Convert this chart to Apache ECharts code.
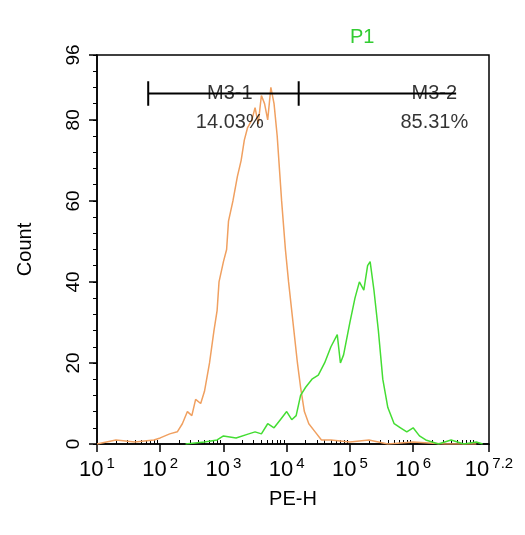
<!DOCTYPE html>
<html>
<head>
<meta charset="utf-8">
<script src="https://cdn.jsdelivr.net/npm/echarts@6/dist/echarts.min.js"></script>
<style>html,body{margin:0;background:#fff}#plot{width:525px;height:535px}</style>
</head>
<body>
<div id="plot"></div>
<script>
// x values are log10 of PE-H
var orangeData = [[1.0,0],[1.3,1],[1.6,0.5],[1.9,1],[2.0,1.5],[2.15,2.5],[2.27,3],[2.35,5],[2.43,8],[2.5,7],[2.56,11],[2.64,10],[2.7,13],[2.78,20],[2.85,28],[2.9,33],[2.93,40],[3.0,45],[3.05,48],[3.08,55],[3.15,60],[3.22,66],[3.28,70],[3.33,75],[3.38,78],[3.45,80],[3.5,83],[3.55,79],[3.6,86],[3.65,84],[3.7,80],[3.75,88],[3.8,84],[3.85,76],[3.92,60],[3.98,48],[4.03,40],[4.1,30],[4.17,20],[4.22,14],[4.28,8],[4.35,5],[4.45,3],[4.55,1],[4.7,1],[5.0,0.5],[5.3,1],[5.6,0],[6.0,0.5],[6.5,0],[7.0,0]];
var greenData = [[2.4,0],[2.7,0.5],[2.9,1],[3.0,2],[3.2,1.5],[3.4,2.5],[3.5,3],[3.6,2.5],[3.7,5],[3.8,4],[3.9,6],[4.0,8],[4.08,6],[4.15,7],[4.22,12],[4.3,14],[4.4,16],[4.5,17],[4.6,20],[4.7,24],[4.8,27],[4.85,20],[4.9,22],[5.0,30],[5.08,36],[5.15,40],[5.22,38],[5.28,44],[5.32,45],[5.38,38],[5.45,28],[5.52,16],[5.6,9],[5.7,5],[5.8,4],[5.9,3],[6.0,4],[6.1,2],[6.2,1],[6.4,0],[6.6,1],[6.8,0],[7.0,0.5],[7.1,0]];
var xLabels = [1, 2, 3, 4, 5, 6, 7, 7.2];
var yTicks = [0, 20, 40, 60, 80, 96];
var gateY = 86.5;
var gate1 = [1.81, 4.19];
var gate2 = [4.19, 6.68];
var gateText = [['M3-1', '14.03%'], ['M3-2', '85.31%']];

var minorX = [];
for (var d = 1; d < 7.2; d++) {
  for (var k = 2; k <= 9; k++) {
    var v = d + Math.log10(k);
    if (v < 7.2) minorX.push(v);
  }
}
var minorY = [];
for (var y = 0; y <= 96; y += 4) minorY.push(y);

var gateLine = [
  [gate1[0], gateY], [gate2[1], gateY], '-',
  [gate1[0], gateY - 3], [gate1[0], gateY + 3], '-',
  [gate1[1], gateY - 3], [gate1[1], gateY + 3]
];

var font = 'Liberation Sans';
var chart = echarts.init(document.getElementById('plot'));
chart.setOption({
  animation: false,
  backgroundColor: '#fff',
  title: {text: 'P1', left: 345, top: 22, textStyle: {color: '#33cc33', fontSize: 20, fontWeight: 'normal', fontFamily: font}},
  grid: {left: 97, right: 36, top: 55, bottom: 91, show: true, borderColor: '#000', borderWidth: 1.5},
  xAxis: [{
    type: 'value', min: 1, max: 7.2,
    name: 'PE-H', nameLocation: 'middle', nameGap: 45,
    nameTextStyle: {fontSize: 20, color: '#000', fontFamily: font},
    axisLine: {lineStyle: {color: '#000', width: 1.5}},
    axisTick: {customValues: xLabels, length: 8, lineStyle: {color: '#000', width: 1.5}},
    splitLine: {show: false},
    axisLabel: {
      customValues: xLabels, margin: 12, showMaxLabel: true, hideOverlap: false,
      formatter: function (v) { return '{b|10}{s|' + v + '}'; },
      rich: {b: {fontSize: 22, color: '#000', fontFamily: font}, s: {fontSize: 15, color: '#000', verticalAlign: 'top', padding: [0, 0, 12, 3], fontFamily: font}}
    }
  }, {
    type: 'value', min: 1, max: 7.2, position: 'bottom',
    axisLine: {show: false}, axisLabel: {show: false}, splitLine: {show: false},
    axisTick: {customValues: minorX, inside: true, length: 4, lineStyle: {color: '#000'}}
  }],
  yAxis: [{
    type: 'value', min: 0, max: 96,
    name: 'Count', nameLocation: 'middle', nameGap: 62,
    nameTextStyle: {fontSize: 20, color: '#000', fontFamily: font},
    axisLine: {lineStyle: {color: '#000', width: 1.5}},
    axisTick: {customValues: yTicks, length: 8, lineStyle: {color: '#000', width: 1.5}},
    splitLine: {show: false},
    axisLabel: {customValues: yTicks, rotate: 90, fontSize: 19, color: '#000', margin: 14, showMaxLabel: true, fontFamily: font}
  }, {
    type: 'value', min: 0, max: 96, position: 'left',
    axisLine: {show: false}, axisLabel: {show: false}, splitLine: {show: false},
    axisTick: {customValues: minorY, length: 4, lineStyle: {color: '#000'}}
  }],
  series: [
    {type: 'line', data: orangeData, showSymbol: false, lineStyle: {color: '#f0a060', width: 1.5}},
    {type: 'line', data: greenData, showSymbol: false, lineStyle: {color: '#44dd33', width: 1.5}},
    {type: 'line', data: gateLine, showSymbol: false, connectNulls: false, lineStyle: {color: '#000', width: 2}},
    {type: 'scatter', symbolSize: 0, silent: true, z: 5,
      data: [
        {value: [(gate1[0] + gate1[1]) / 2 + 0.1, gateY], label: {formatter: gateText[0][0] + '\n' + gateText[0][1]}},
        {value: [(gate2[0] + gate2[1]) / 2 + 0.9, gateY], label: {formatter: gateText[1][0] + '\n' + gateText[1][1]}}
      ],
      label: {show: true, position: 'inside', offset: [0, 14], fontSize: 20, lineHeight: 29, color: '#000', align: 'center', fontFamily: font}
    }
  ]
});
</script>
</body>
</html>
